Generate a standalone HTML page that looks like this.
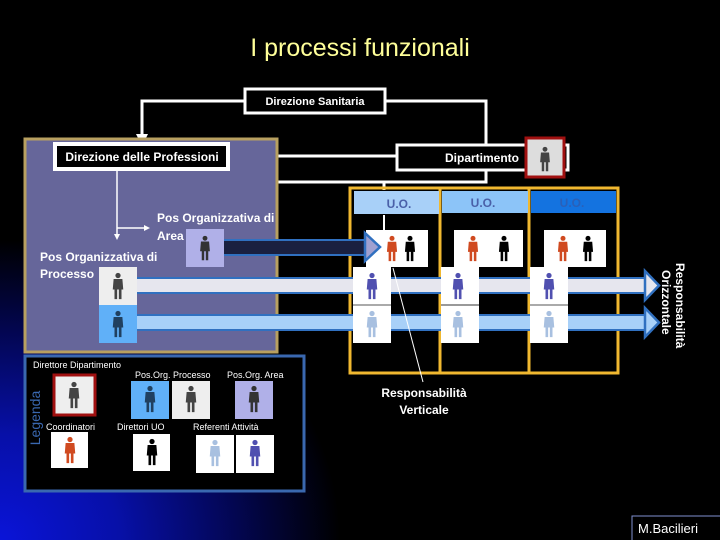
<!DOCTYPE html>
<html><head><meta charset="utf-8"><style>
html,body{margin:0;padding:0;background:#000;}
body{width:720px;height:540px;overflow:hidden;position:relative;
background:radial-gradient(ellipse 340px 300px at 0px 540px,#0a14d8 0%,#0710a8 35%,#030650 70%,#000 100%);}
svg{position:absolute;left:0;top:0}
text{font-family:"Liberation Sans",sans-serif;}
</style></head><body>
<svg width="720" height="540" viewBox="0 0 720 540">
<defs>
<symbol id="p" viewBox="-8 -16 16 32"><circle cx="0" cy="-12" r="3"/><path d="M-5,-8 H5 L6,4 H4 V15 H1 V4 H-1 V15 H-4 V4 H-6 Z"/></symbol>
</defs>
<text x="360" y="56" fill="#ffff99" font-size="25" text-anchor="middle">I processi funzionali</text>
<g stroke="#fff" stroke-width="3" fill="none">
<path d="M245,101 H142 V138"/>
<path d="M385,101 H486 V146"/>
<path d="M228,156 H397"/>
<path d="M143,169 V182 H486 V170"/>
<path d="M384,182 V190"/>
</g>
<path d="M136,134 L148,134 L142,146 Z" fill="#fff"/>
<rect x="25" y="139" width="252" height="213" fill="#66669a" stroke="#b8a060" stroke-width="3"/>
<rect x="55" y="144" width="173" height="25" fill="#000" stroke="#fff" stroke-width="4"/>
<text x="142" y="161" fill="#fff" font-size="12" font-weight="bold" text-anchor="middle">Direzione delle Professioni</text>
<rect x="245" y="89" width="140" height="24" fill="#000" stroke="#fff" stroke-width="3"/>
<text x="315" y="105" fill="#fff" font-size="11" font-weight="bold" text-anchor="middle">Direzione Sanitaria</text>
<g stroke="#fff" stroke-width="1.5" fill="none"><path d="M117,170 V236"/><path d="M117,228 H145"/></g>
<path d="M114,234 L120,234 L117,240Z M144,225 L150,228 L144,231Z" fill="#fff"/>
<text x="157" y="222" fill="#fff" font-size="12" font-weight="bold">Pos Organizzativa di</text>
<text x="157" y="240" fill="#fff" font-size="12" font-weight="bold">Area</text>
<text x="40" y="261" fill="#fff" font-size="12" font-weight="bold">Pos Organizzativa di</text>
<text x="40" y="278" fill="#fff" font-size="12" font-weight="bold">Processo</text>
<rect x="397" y="145" width="171" height="25" fill="#000" stroke="#fff" stroke-width="3"/>
<text x="482" y="162" fill="#fff" font-size="12" font-weight="bold" text-anchor="middle">Dipartimento</text>
<rect x="526" y="138" width="38" height="39" fill="#ddd" stroke="#a01010" stroke-width="3"/>
<use href="#p" x="537" y="146" width="16" height="26" fill="#444"/>
<g fill="none" stroke="#f0b830" stroke-width="3"><rect x="350" y="188" width="268" height="185"/><path d="M440,188 V373 M529,188 V373"/></g>
<rect x="354" y="191" width="85" height="23" fill="#a8d0f8"/>
<rect x="442" y="191" width="86" height="22" fill="#8cc4f8"/>
<rect x="531" y="191" width="85" height="22" fill="#1473e0"/>
<text x="399" y="208" fill="#4a60a8" font-size="12" font-weight="bold" text-anchor="middle">U.O.</text>
<text x="483" y="207" fill="#4a60a8" font-size="12" font-weight="bold" text-anchor="middle">U.O.</text>
<text x="572" y="207" fill="#2a60b8" font-size="12" font-weight="bold" text-anchor="middle">U.O.</text>
<rect x="366" y="230" width="62" height="37" fill="#fff"/>
<rect x="454" y="230" width="69" height="37" fill="#fff"/>
<rect x="544" y="230" width="62" height="37" fill="#fff"/>
<rect x="200" y="240" width="166" height="15" fill="#1a2040" stroke="#3070c0" stroke-width="2"/>
<path d="M365,233 L380,247 L365,261 Z" fill="#a0a0d0" stroke="#3070c0" stroke-width="2.5"/>
<rect x="186" y="229" width="38" height="38" fill="#b0b0e8"/>
<use href="#p" x="197" y="235" width="16" height="26" fill="#333"/>
<path d="M384,215 V240" stroke="#fff" stroke-width="2"/>
<path d="M378,236 L390,236 L384,246Z" fill="#fff"/>
<rect x="136" y="278" width="510" height="15" fill="#e6e6ee" stroke="#3070c0" stroke-width="2"/>
<path d="M645,271 L659,285.5 L645,300 Z" fill="#e6e6ee" stroke="#3070c0" stroke-width="2.5"/>
<rect x="136" y="315" width="510" height="15" fill="#a8d0f8" stroke="#3070c0" stroke-width="2"/>
<path d="M645,308 L659,322.5 L645,337 Z" fill="#a8d0f8" stroke="#3070c0" stroke-width="2.5"/>
<rect x="99" y="267" width="38" height="38" fill="#eee"/>
<use href="#p" x="110" y="272" width="16" height="28" fill="#444"/>
<rect x="99" y="305" width="38" height="38" fill="#60b0f8"/>
<use href="#p" x="110" y="310" width="16" height="28" fill="#204060"/>
<g>
<rect x="353" y="267" width="38" height="76" fill="#fff"/><path d="M353,305 H391" stroke="#555"/>
<rect x="441" y="267" width="38" height="76" fill="#fff"/><path d="M441,305 H479" stroke="#333"/>
<rect x="530" y="267" width="38" height="76" fill="#fff"/><path d="M530,305 H568" stroke="#555"/>
</g>
<use href="#p" x="384" y="235" width="16" height="27" fill="#d04a20"/>
<use href="#p" x="402" y="235" width="16" height="27" fill="#000"/>
<use href="#p" x="465" y="235" width="16" height="27" fill="#d04a20"/>
<use href="#p" x="496" y="235" width="16" height="27" fill="#000"/>
<use href="#p" x="555" y="235" width="16" height="27" fill="#d04a20"/>
<use href="#p" x="580" y="235" width="16" height="27" fill="#000"/>
<use href="#p" x="364" y="272" width="16" height="28" fill="#5050b0"/>
<use href="#p" x="450" y="272" width="16" height="28" fill="#5050b0"/>
<use href="#p" x="541" y="272" width="16" height="28" fill="#5050b0"/>
<use href="#p" x="364" y="310" width="16" height="28" fill="#a8c0e0"/>
<use href="#p" x="450" y="310" width="16" height="28" fill="#a8c0e0"/>
<use href="#p" x="541" y="310" width="16" height="28" fill="#a8c0e0"/>
<path d="M393,268 L423,382" stroke="#fff" stroke-width="1"/>
<text x="424" y="397" fill="#fff" font-size="12" font-weight="bold" text-anchor="middle">Responsabilità</text>
<text x="424" y="414" fill="#fff" font-size="12" font-weight="bold" text-anchor="middle">Verticale</text>
<text transform="translate(676,263) rotate(90)" fill="#fff" font-size="12" font-weight="bold">Responsabilità</text>
<text transform="translate(662,270) rotate(90)" fill="#fff" font-size="12" font-weight="bold">Orizzontale</text>
<rect x="25" y="356" width="279" height="135" fill="#000" stroke="#3a68b0" stroke-width="3"/>
<text transform="translate(40,418) rotate(-90)" fill="#3a68b0" font-size="14" text-anchor="middle">Legenda</text>
<text x="33" y="368" fill="#fff" font-size="9">Direttore Dipartimento</text>
<text x="135" y="378" fill="#fff" font-size="9">Pos.Org. Processo</text>
<text x="227" y="378" fill="#fff" font-size="9">Pos.Org. Area</text>
<text x="46" y="430" fill="#fff" font-size="9">Coordinatori</text>
<text x="117" y="430" fill="#fff" font-size="9">Direttori UO</text>
<text x="193" y="430" fill="#fff" font-size="9">Referenti Attività</text>
<rect x="54" y="375" width="41" height="40" fill="#eee" stroke="#a01010" stroke-width="3"/>
<use href="#p" x="66" y="381" width="16" height="28" fill="#444"/>
<rect x="131" y="381" width="38" height="38" fill="#60b0f8"/><use href="#p" x="142" y="385" width="16" height="28" fill="#204060"/>
<rect x="172" y="381" width="38" height="38" fill="#eee"/><use href="#p" x="183" y="385" width="16" height="28" fill="#444"/>
<rect x="235" y="381" width="38" height="38" fill="#b0b0e8"/><use href="#p" x="246" y="385" width="16" height="28" fill="#333"/>
<rect x="51" y="432" width="37" height="36" fill="#fff"/><use href="#p" x="62" y="436" width="16" height="28" fill="#d04a20"/>
<rect x="133" y="434" width="37" height="37" fill="#fff"/><use href="#p" x="144" y="438" width="16" height="28" fill="#000"/>
<rect x="196" y="435" width="38" height="38" fill="#fff"/><use href="#p" x="207" y="439" width="16" height="28" fill="#a8c0e0"/>
<rect x="236" y="435" width="38" height="38" fill="#fff"/><use href="#p" x="247" y="439" width="16" height="28" fill="#5050b0"/>
<rect x="632" y="516" width="90" height="26" fill="#000" stroke="#8090d0" stroke-width="1"/>
<text x="638" y="533" fill="#fff" font-size="13">M.Bacilieri</text>
</svg>
</body></html>
